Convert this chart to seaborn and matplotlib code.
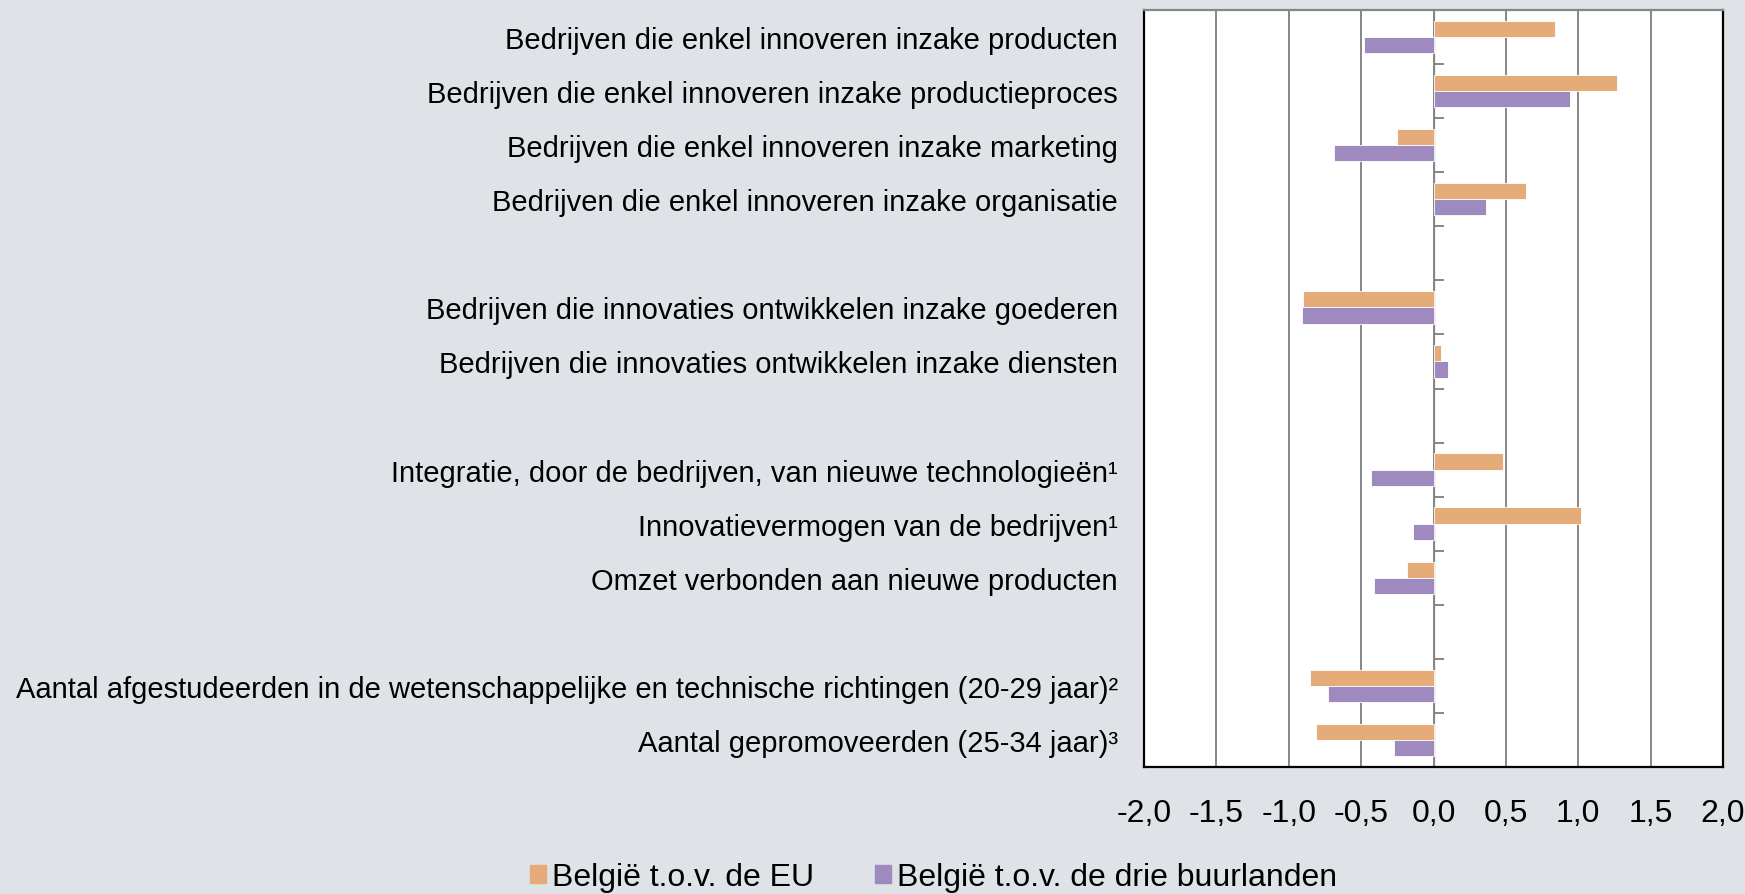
import numpy as np
import pandas as pd
import matplotlib
matplotlib.use("Agg")
import matplotlib.pyplot as plt
import seaborn as sns
from matplotlib.ticker import FuncFormatter, MultipleLocator

# categories (blank strings are the empty separator rows)
categories = [
    "Bedrijven die enkel innoveren inzake producten",
    "Bedrijven die enkel innoveren inzake productieproces",
    "Bedrijven die enkel innoveren inzake marketing",
    "Bedrijven die enkel innoveren inzake organisatie",
    " ",
    "Bedrijven die innovaties ontwikkelen inzake goederen",
    "Bedrijven die innovaties ontwikkelen inzake diensten",
    "  ",
    "Integratie, door de bedrijven, van nieuwe technologieën¹",
    "Innovatievermogen van de bedrijven¹",
    "Omzet verbonden aan nieuwe producten",
    "   ",
    "Aantal afgestudeerden in de wetenschappelijke en technische richtingen (20-29 jaar)²",
    "Aantal gepromoveerden (25-34 jaar)³",
]

series = ["België t.o.v. de EU", "België t.o.v. de drie buurlanden"]

# values per non-empty category, in order
vs_eu = [0.84, 1.27, -0.25, 0.64, -0.90, 0.05, 0.48, 1.02, -0.18, -0.85, -0.81]
vs_buren = [-0.48, 0.94, -0.69, 0.36, -0.91, 0.10, -0.43, -0.14, -0.41, -0.73, -0.27]

colors = ["#E5AC7A", "#9E8ABE"]
bg = "#DFE3E8"
grid_col = "#878787"

real_cats = [c for c in categories if c.strip()]
df = pd.DataFrame({
    "categorie": real_cats * 2,
    "reeks": [series[0]] * len(real_cats) + [series[1]] * len(real_cats),
    "waarde": vs_eu + vs_buren,
})

plt.rcParams["font.family"] = ["Liberation Sans", "DejaVu Sans"]

fig = plt.figure(figsize=(17.45, 8.95), dpi=100, facecolor=bg)
ax = fig.add_axes([0.6556, 0.1419, 0.3318, 0.8458])
ax.set_facecolor("white")

sns.barplot(
    data=df, x="waarde", y="categorie", hue="reeks",
    order=categories, hue_order=series, palette=colors, saturation=1,
    orient="h", width=0.6, gap=0, edgecolor="white", linewidth=0.6,
    errorbar=None, ax=ax, zorder=3,
)

ax.set_xlim(-2, 2)
ax.set_ylim(len(categories) - 0.5, -0.5)
ax.xaxis.set_major_locator(MultipleLocator(0.5))
ax.xaxis.set_major_formatter(FuncFormatter(lambda v, p: f"{v:.1f}".replace(".", ",")))
ax.grid(axis="x", color=grid_col, linewidth=1.4, zorder=0)
ax.grid(axis="y", visible=False)
ax.set_axisbelow(True)

ax.set_xlabel("")
ax.set_ylabel("")
ax.tick_params(axis="x", length=0, pad=22, labelsize=23, colors="black")
ax.tick_params(axis="y", length=0, pad=19, labelsize=21, colors="black")
ax.set_yticks(range(len(categories)))
ax.set_yticklabels(categories)

for side in ["left", "bottom", "right"]:
    ax.spines[side].set_color("black")
    ax.spines[side].set_linewidth(1.6)
ax.spines["top"].set_color(grid_col)
ax.spines["top"].set_linewidth(1.6)

# small boundary ticks on the zero line
sec = ax.secondary_yaxis(0.5)
sec.spines["left"].set_visible(False)
sec.set_yticks(np.arange(0.5, len(categories) - 0.5, 1.0))
sec.set_yticklabels([])
sec.tick_params(axis="y", length=7, width=1.4, color=grid_col, direction="out")

ax.get_legend().remove()
handles = [plt.Rectangle((0, 0), 1, 1, color=c) for c in colors]
fig.legend(handles, series, loc="center", bbox_to_anchor=(0.535, 0.019),
           ncol=2, frameon=False, fontsize=23, handlelength=0.5, handleheight=0.5,
           handletextpad=0.2, columnspacing=1.9, borderpad=0, borderaxespad=0)

fig.savefig("out.png", dpi=100, facecolor=bg)
